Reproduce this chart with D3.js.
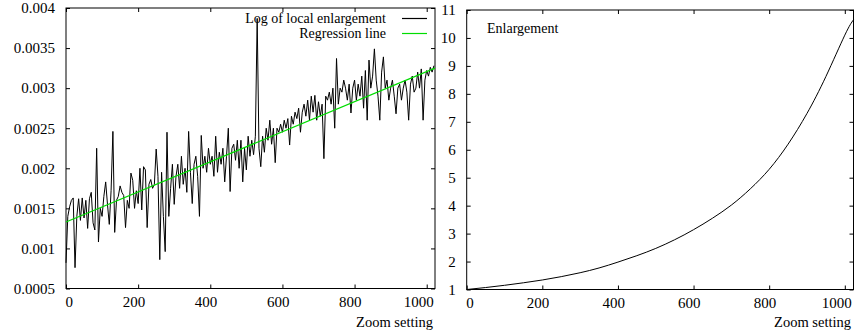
<!DOCTYPE html>
<html>
<head>
<meta charset="utf-8">
<script src="https://cdn.jsdelivr.net/npm/d3@7"></script>
<style>
  body { margin: 0; background: #fff; }
  svg text { font-family: "Liberation Serif", "Times New Roman", Times, serif !important; fill: #000; }
</style>
</head>
<body>
<div id="chart"></div>
<script>
// zoom settings are sampled every 5 units
const zoomStep = 5;
const logLocal = [
  0.00082, 0.00140, 0.00152, 0.00160, 0.00163, 0.00076, 0.00140, 0.00162, 0.00135, 0.00163,
  0.00138, 0.00160, 0.00125, 0.00162, 0.00170, 0.00132, 0.00123, 0.00225, 0.00108, 0.00150,
  0.00140, 0.00165, 0.00183, 0.00155, 0.00130, 0.00172, 0.00246, 0.00120, 0.00160, 0.00165,
  0.00178, 0.00170, 0.00166, 0.00126, 0.00160, 0.00150, 0.00194, 0.00185, 0.00150, 0.00172,
  0.00156, 0.00200, 0.00148, 0.00202, 0.00198, 0.00126, 0.00180, 0.00186, 0.00175, 0.00180,
  0.00224, 0.00190, 0.00086, 0.00195, 0.00140, 0.00096, 0.00245, 0.00140, 0.00175, 0.00205,
  0.00155, 0.00190, 0.00205, 0.00175, 0.00215, 0.00180, 0.00200, 0.00170, 0.00246, 0.00195,
  0.00156, 0.00205, 0.00215, 0.00190, 0.00140, 0.00241, 0.00200, 0.00215, 0.00195, 0.00225,
  0.00205, 0.00215, 0.00190, 0.00240, 0.00195, 0.00220, 0.00205, 0.00225, 0.00183, 0.00215,
  0.00250, 0.00171, 0.00225, 0.00230, 0.00210, 0.00235, 0.00200, 0.00235, 0.00183, 0.00225,
  0.00198, 0.00240, 0.00215, 0.00235, 0.00217, 0.00240, 0.00387, 0.00225, 0.00202, 0.00240,
  0.00220, 0.00250, 0.00235, 0.00260, 0.00230, 0.00250, 0.00207, 0.00250, 0.00245, 0.00255,
  0.00245, 0.00260, 0.00250, 0.00262, 0.00229, 0.00265, 0.00255, 0.00270, 0.00262, 0.00275,
  0.00245, 0.00270, 0.00280, 0.00265, 0.00285, 0.00260, 0.00290, 0.00270, 0.00291, 0.00260,
  0.00283, 0.00265, 0.00280, 0.00212, 0.00290, 0.00285, 0.00295, 0.00280, 0.00300, 0.00250,
  0.00337, 0.00280, 0.00300, 0.00295, 0.00310, 0.00300, 0.00285, 0.00305, 0.00269, 0.00300,
  0.00310, 0.00285, 0.00305, 0.00290, 0.00315, 0.00275, 0.00322, 0.00260, 0.00335, 0.00300,
  0.00315, 0.00349, 0.00310, 0.00290, 0.00260, 0.00320, 0.00339, 0.00300, 0.00310, 0.00285,
  0.00300, 0.00310, 0.00290, 0.00268, 0.00300, 0.00305, 0.00285, 0.00300, 0.00310, 0.00295,
  0.00260, 0.00305, 0.00315, 0.00295, 0.00300, 0.00320, 0.00300, 0.00324, 0.00260, 0.00310,
  0.00322, 0.00315, 0.00326, 0.00320, 0.00328
];

// regression line end points
const regressionZoom = [0, 1023];
const regressionValue = [0.00133, 0.00325];

// enlargement curve
const enlargeZoom = [0, 50, 100, 150, 200, 250, 300, 350, 400, 450, 500, 550, 600, 650, 700, 750, 800, 850, 900, 950, 1000, 1023];
const enlargeValue = [1.00, 1.07, 1.15, 1.24, 1.34, 1.46, 1.60, 1.77, 1.98, 2.21, 2.47, 2.78, 3.14, 3.55, 4.02, 4.60, 5.30, 6.20, 7.30, 8.62, 10.10, 10.65];

const xTicks = [0, 200, 400, 600, 800, 1000];
const leftYTicks = [0.0005, 0.001, 0.0015, 0.002, 0.0025, 0.003, 0.0035, 0.004];
const rightYTicks = [1, 2, 3, 4, 5, 6, 7, 8, 9, 10, 11];

const width = 855, height = 333;
const tickLen = 4;
const green = '#00dd00';

const svg = d3.select('#chart').append('svg')
  .attr('width', width)
  .attr('height', height);

// draws the framed box with mirrored ticks
function drawFrame(x, y, yTicks, yFormat) {
  const g = svg.append('g');
  const [x0, x1] = x.range();
  const [y0, y1] = y.range();

  const bottom = g.append('g')
    .attr('transform', 'translate(0,' + y0 + ')')
    .call(d3.axisBottom(x).tickValues(xTicks).tickSize(-tickLen).tickPadding(8).tickFormat(d3.format('d')));
  // the x labels sit right-aligned just past their ticks
  bottom.selectAll('.tick text')
    .attr('text-anchor', 'end')
    .attr('x', 6.5);

  g.append('g')
    .attr('transform', 'translate(0,' + y1 + ')')
    .call(d3.axisTop(x).tickValues(xTicks).tickSize(-tickLen).tickFormat(''));
  g.append('g')
    .attr('transform', 'translate(' + x0 + ',0)')
    .call(d3.axisLeft(y).tickValues(yTicks).tickSize(-tickLen).tickPadding(11).tickFormat(yFormat));
  g.append('g')
    .attr('transform', 'translate(' + x1 + ',0)')
    .call(d3.axisRight(y).tickValues(yTicks).tickSize(-tickLen).tickFormat(''));

  g.selectAll('.domain').remove();
  g.selectAll('.tick line').attr('stroke', '#000');
  g.selectAll('.tick text').style('font-size', '15px');

  g.append('rect')
    .attr('x', x0).attr('y', y1)
    .attr('width', x1 - x0).attr('height', y0 - y1)
    .attr('fill', 'none')
    .attr('stroke', '#000')
    .attr('stroke-width', 1);

  g.append('text')
    .attr('x', Math.min(x1 - 2, 851))
    .attr('y', 327)
    .attr('text-anchor', 'end')
    .style('font-size', '14.5px')
    .text('Zoom setting');
  return g;
}

// left panel
const xL = d3.scaleLinear().domain([0, 1023]).range([66, 435]);
const yL = d3.scaleLinear().domain([0.0005, 0.004]).range([288.5, 8]);

drawFrame(xL, yL, leftYTicks, d => String(+d.toPrecision(2)));

const localLine = d3.line()
  .x((d, i) => xL(i * zoomStep))
  .y(d => yL(d));

svg.append('path')
  .attr('d', localLine(logLocal))
  .attr('fill', 'none')
  .attr('stroke', '#000')
  .attr('stroke-width', 1);

const regLine = d3.line()
  .x(d => xL(d))
  .y((d, i) => yL(regressionValue[i]));

svg.append('path')
  .attr('d', regLine(regressionZoom))
  .attr('fill', 'none')
  .attr('stroke', green)
  .attr('stroke-width', 1.2);

// legend
const legend = svg.append('g').style('font-size', '14px');
legend.append('text').attr('x', 386).attr('y', 23).attr('text-anchor', 'end').text('Log of local enlargement');
legend.append('line').attr('x1', 402).attr('x2', 427).attr('y1', 18.5).attr('y2', 18.5).attr('stroke', '#000').attr('stroke-width', 1.2);
legend.append('text').attr('x', 386).attr('y', 38).attr('text-anchor', 'end').text('Regression line');
legend.append('line').attr('x1', 402).attr('x2', 427).attr('y1', 33.5).attr('y2', 33.5).attr('stroke', green).attr('stroke-width', 1.2);

// right panel
const xR = d3.scaleLinear().domain([0, 1023]).range([466.7, 853.5]);
const yR = d3.scaleLinear().domain([1, 11]).range([289.5, 10]);

drawFrame(xR, yR, rightYTicks, d3.format('d'));

const enlargeLine = d3.line()
  .x(d => xR(d))
  .y((d, i) => yR(enlargeValue[i]))
  .curve(d3.curveNatural);

svg.append('path')
  .attr('d', enlargeLine(enlargeZoom))
  .attr('fill', 'none')
  .attr('stroke', '#000')
  .attr('stroke-width', 1);

svg.append('text')
  .attr('x', 487)
  .attr('y', 33)
  .style('font-size', '14px')
  .text('Enlargement');
</script>
</body>
</html>
